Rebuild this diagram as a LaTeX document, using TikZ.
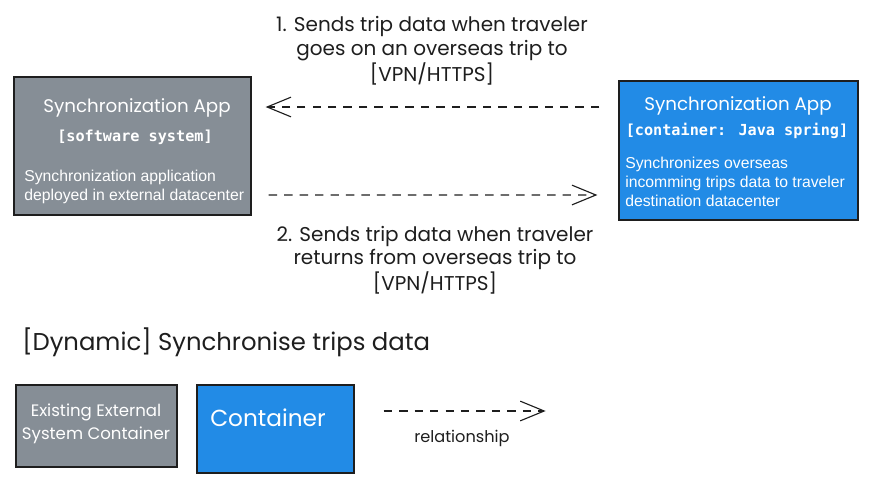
\documentclass[tikz,border=0pt]{standalone}
\usepackage{fontspec}
\setmainfont{Liberation Sans}
\newfontfamily\handfont{Poppins}
\newfontfamily\codefont{DejaVu Sans Mono}
\usetikzlibrary{arrows.meta,positioning}
\definecolor{ink}{HTML}{1E1E1E}
\definecolor{extgrey}{HTML}{868E96}
\definecolor{contblue}{HTML}{228BE6}
\tikzset{
  box/.style={draw=ink,line width=0.9pt,inner sep=0pt},
  extbox/.style={box,fill=extgrey},
  contbox/.style={box,fill=contblue},
  hand/.style={font=\handfont\fontsize{14.2}{17}\selectfont,text=ink,align=center},
  boxtitle/.style={font=\handfont\fontsize{13}{17}\selectfont,text=white},
  boxtype/.style={font=\codefont\bfseries\fontsize{10.8}{14}\selectfont,text=white},
  boxbody/.style={font=\fontsize{11.2}{13.4}\selectfont,text=white,align=left,anchor=west,inner sep=0pt},
  flow/.style={draw=ink,line width=0.8pt,dash pattern=on 6pt off 5pt,
    -{Straight Barb[length=17pt,width=14pt,line width=0.8pt]}}
}

\begin{document}
\begin{tikzpicture}[x=0.025cm,y=-0.025cm]
  \useasboundingbox (0,0) rectangle (872,488);
  % software system on the left
  \node[extbox,minimum width=237*0.025cm,minimum height=138*0.025cm] (appExt) at (132.5,146) {};
  \node[boxtitle] (appExtName) at (137,108) {Synchronization App};
  \node[boxtype] (appExtType) at (135,137) {[software system]};
  \node[boxbody] (appExtText) at (24,186.5) {Synchronization application\\deployed in external datacenter};
  % container on the right
  \node[contbox,minimum width=239*0.025cm,minimum height=139*0.025cm] (appInt) at (738.5,150.5) {};
  \node[boxtitle] (appIntName) at (738,106) {Synchronization App};
  \node[boxtype] (appIntType) at (737,131) {[container: Java spring]};
  \node[boxbody] (appIntText) at (625,182) {Synchronizes overseas\\incomming trips data to traveler\\destination datacenter};
  % the two flows
  \coordinate (outStart) at ([shift={(-19,-43.5)}]appInt.west);
  \coordinate (outEnd) at ([shift={(14,-39)}]appExt.east);
  \draw[flow] (outStart) -- (outEnd);
  \node[hand] (outLabel) at (432,51) {1. Sends trip data when traveler\\goes on an overseas trip to\\{[VPN/HTTPS]}};
  \coordinate (backStart) at ([shift={(17,49)}]appExt.east);
  \coordinate (backEnd) at ([shift={(-21,44.5)}]appInt.west);
  \draw[flow] (backStart) -- (backEnd);
  \node[hand] (backLabel) at (435,260) {2. Sends trip data when traveler\\returns from overseas trip to\\{[VPN/HTTPS]}};
  % title and legend
  \node[hand,anchor=west,inner sep=0pt,font=\handfont\fontsize{17.3}{20}\selectfont] (title) at (22,342) {[Dynamic] Synchronise trips data};
  \node[extbox,minimum width=161*0.025cm,minimum height=82*0.025cm] (legExt) at (96.5,426) {};
  \node[boxtitle,align=center,font=\handfont\fontsize{11.8}{16.5}\selectfont] (legExtText) at (96,424) {Existing External\\System Container};
  \node[contbox,minimum width=157*0.025cm,minimum height=88*0.025cm] (legInt) at (275.5,429) {};
  \node[boxtitle,font=\handfont\fontsize{16.5}{20}\selectfont] (legIntText) at (268,418) {Container};
  \coordinate (legStart) at ([shift={(29,-18)}]legInt.east);
  \coordinate (legEnd) at ([shift={(191,-18)}]legInt.east);
  \draw[flow] (legStart) -- (legEnd);
  \node[hand,font=\handfont\fontsize{11.5}{14}\selectfont] (legLabel) at (462,438) {relationship};
\end{tikzpicture}
\end{document}
